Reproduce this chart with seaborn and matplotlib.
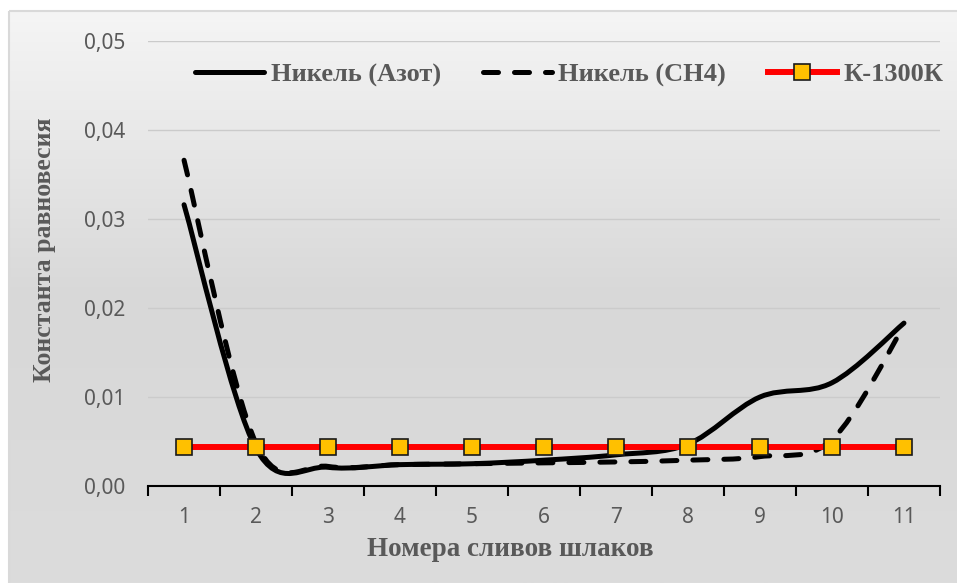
import matplotlib
matplotlib.use("Agg")
import matplotlib.pyplot as plt
import numpy as np
import seaborn as sns
from matplotlib.colors import LinearSegmentedColormap
from matplotlib.lines import Line2D
from matplotlib.patches import PathPatch, Rectangle
from matplotlib.path import Path

# номера сливов и значения константы равновесия
slivy = [1, 2, 3, 4, 5, 6, 7, 8, 9, 10, 11]
nikel_azot = [0.0316, 0.0042, 0.0021, 0.0024, 0.0025, 0.0029, 0.0035, 0.0047, 0.0100, 0.0116, 0.0183]
nikel_ch4 = [0.0366, 0.0048, 0.0022, 0.0024, 0.0025, 0.0026, 0.0027, 0.0029, 0.0033, 0.0052, 0.0180]
k_1300 = [0.0044] * 11

y_ticks = [0.0, 0.01, 0.02, 0.03, 0.04, 0.05]
y_tick_labels = ["0,00", "0,01", "0,02", "0,03", "0,04", "0,05"]

GRAY = "#595959"
SERIF = ["Liberation Serif", "DejaVu Serif"]
DASH = (0, (3.0, 3.2))


def smooth_path(xs, ys):
    # сглаживание как в Excel: кубические Безье через точки
    pts = np.column_stack([xs, ys]).astype(float)
    n = len(pts)
    verts = [pts[0]]
    codes = [Path.MOVETO]
    for i in range(n - 1):
        p0 = pts[max(i - 1, 0)]
        p1 = pts[i]
        p2 = pts[i + 1]
        p3 = pts[min(i + 2, n - 1)]
        verts += [p1 + (p2 - p0) / 6, p2 - (p3 - p1) / 6, p2]
        codes += [Path.CURVE4] * 3
    return Path(verts, codes)


def main():
    fig = plt.figure(figsize=(9.57, 5.83), dpi=100)

    # фон области диаграммы с градиентом
    bg = fig.add_axes([0, 0, 1, 1], zorder=-10)
    bg.set_xlim(0, 957)
    bg.set_ylim(583, 0)
    bg.axis("off")
    cmap = LinearSegmentedColormap.from_list("bg", ["#f5f5f5", "#d8d8d8", "#dcdcdc"])
    grad = np.linspace(0, 1, 256).reshape(-1, 1)
    bg.imshow(grad, cmap=cmap, extent=(9, 957, 583, 11), aspect="auto")
    bg.add_patch(Rectangle((9, 11), 960, 600, fill=False, ec="#d9d9d9", lw=1.5))

    ax = fig.add_axes([0.1547, 0.1664, 0.8275, 0.7633])
    ax.patch.set_alpha(0)

    ax.add_patch(PathPatch(smooth_path(slivy, nikel_azot), fill=False, ec="black",
                           lw=3.6, capstyle="round", joinstyle="round", zorder=2))
    ax.add_patch(PathPatch(smooth_path(slivy, nikel_ch4), fill=False, ec="black",
                           lw=3.6, capstyle="round", joinstyle="round",
                           linestyle=DASH, zorder=2))
    sns.lineplot(x=slivy, y=k_1300, ax=ax, color="red", lw=4.3, marker="s",
                 markersize=12, markerfacecolor="#FFC000", markeredgecolor="#1a1a1a",
                 markeredgewidth=1.2, zorder=3)

    ax.set_xlim(0.5, 11.5)
    ax.set_ylim(0, 0.05)
    ax.set_yticks(y_ticks)
    ax.set_yticklabels(y_tick_labels)
    ax.set_xticks(slivy)
    ax.set_xticklabels([str(s) for s in slivy])
    ax.set_xticks(np.arange(0.5, 12, 1), minor=True)
    ax.tick_params(axis="x", which="major", length=0, pad=15, labelsize=15, labelcolor=GRAY)
    ax.tick_params(axis="x", which="minor", length=7, width=1.5, color="black", direction="out")
    ax.tick_params(axis="y", length=0, pad=16.5, labelsize=15, labelcolor=GRAY)
    for lab in ax.get_xticklabels() + ax.get_yticklabels():
        lab.set_fontfamily(["Noto Sans", "DejaVu Sans"])

    ax.grid(axis="y", color="#cbcbcb", lw=1)
    ax.set_axisbelow(True)
    for s in ["left", "right", "top"]:
        ax.spines[s].set_visible(False)
    ax.spines["bottom"].set_color("black")
    ax.spines["bottom"].set_linewidth(1.5)

    ax.set_xlabel("Номера сливов шлаков", fontsize=19.5, fontweight="bold",
                  color=GRAY, family=SERIF)
    ax.set_ylabel("Константа равновесия", fontsize=18.5, fontweight="bold",
                  color=GRAY, family=SERIF)
    ax.xaxis.set_label_coords(0.458, -0.115)
    ax.yaxis.set_label_coords(-0.116, 0.53)

    handles = [
        Line2D([], [], color="black", lw=3.6, solid_capstyle="round"),
        Line2D([], [], color="black", lw=3.6, linestyle=DASH, dash_capstyle="round"),
        Line2D([], [], color="red", lw=4.3, marker="s", markersize=12,
               markerfacecolor="#FFC000", markeredgecolor="#1a1a1a", markeredgewidth=1.2),
    ]
    leg = ax.legend(handles, ["Никель (Азот)", "Никель (СН4)", "К-1300К"], ncol=3,
                    loc="center", bbox_to_anchor=(0.532, 0.924), frameon=False,
                    handlelength=2.6, handletextpad=0.25, columnspacing=1.6,
                    prop={"family": SERIF, "weight": "bold", "size": 19})
    for t in leg.get_texts():
        t.set_color(GRAY)

    fig.savefig("out.png", dpi=100)


if __name__ == "__main__":
    main()
